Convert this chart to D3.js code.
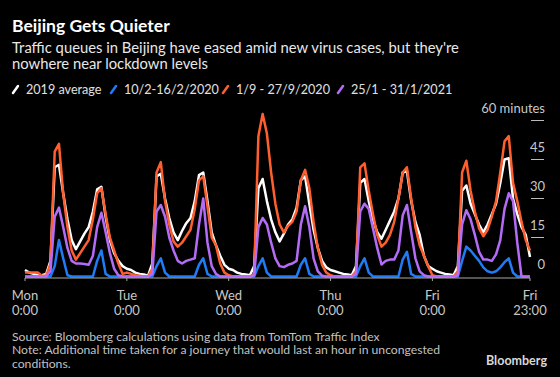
<!DOCTYPE html>
<html>
<head>
<meta charset="utf-8">
<script src="https://cdn.jsdelivr.net/npm/d3@7"></script>
<style>
    body { margin: 0; background: #000; }
    svg { display: block; background: #000; font-family: Lato, "Open Sans", sans-serif; }
</style>
</head>
<body>
<div id="chart"></div>
<script>

// hourly extra minutes, Mon 0:00 -> Fri 23:00 (one row per day)
let avg2019 = [
    2.5,1.5,1,0.5,0.5,1,6,42,43,32,22,14,10.5,13.5,16.5,19,25,33.5,34.5,23,14,9,6,4,
    3,2.5,1.5,1,0.8,0.3,5,38.5,39.5,30,22.5,17,14,17.5,20.5,22.5,29,39,40,29,17,12,8,4.5,
    3,2.5,1.5,1,0.8,0.5,4,34,37.5,29,22,17,13.5,16.5,20,22,26.5,37,38.5,28,18,11,6,3.5,
    2.5,2,1.5,1,0.8,0.5,4,36,37.5,29,22,17,14.5,18,21.5,25,30,40,40.5,29,21,16,8,4,
    3,2,1.5,1,0.8,0.5,4,33,35,28,24,20,17,20,24,28,36,45,45.5,30,24,19,16,7.5
];
let feb2020 = [
    0,0,0,0,0,0,0,4,14,7,0.5,0,0,0,0,0,0,6,10,1,0,0,0,0,
    0,0,0,0,0,0,0,4,7,1.5,0,0,0,0,0,0,0,4.5,7,1,0,0,0,0,
    0,0,0,0,0,0,0,4,7,1.5,0,0,0,0,0,0,0,4.5,7,1,0,0,0,0,
    0,0,0,0,0,0,0,4,7,1.5,0,0,0,0,0,0,0,6.5,9.5,1,0,0,0,0,
    0,0,0,0,0,0,0,6,11.5,10,8,6,3.5,2,1.5,2,3.5,5.5,7,1.5,0,0,0,0
];
let sep2020 = [
    1.5,1.5,1.5,1.5,0.3,0.3,5,48,51,32,19,10,6.5,9,11.5,14,22,32,34,24,15,10,5,1,
    1.5,1,0.5,0.3,0,0,3,40,44,29,20,13.5,11.5,13,15.5,18,26,37,38.5,27,15,12,5,1.5,
    0.5,0,0,0,0,0,1,54,62.5,55,40,28,20,17,19.5,21,25,37,41,34,21,11,4.5,1.5,
    0.5,0,0,0,0,0,2,42,43.5,33,24,16,11.5,13,16,21,30,40,42,30,19,12,8,4,
    0.5,0,0,0,0,0,2,40,44.5,33,25,18.5,15.5,18,23,29,40,52,54,36,29,21,14,10
];
let jan2021 = [
    0,0,0,0,0,0,2,23,26.5,19,11,6,5,5,4.8,4.5,8,19,24.5,17,9,3,0.5,0,
    0,0,0,0,0,0,1,25,27.5,23,15,10,6,5,6,6.5,7,20,30,13,4,1,0,0,
    0,0,0,0,0,0,0.5,19,22.5,20,13,7,4,3.6,4.5,5,6,20,27,19,7,2,0.3,0,
    0,0,0,0,0,0,1,25,28,26,18.5,11,4.6,6,6.5,6.5,10,23.5,27.5,17,7,2,0.5,0,
    0,0,0,0,0,0,0.5,20,25.5,22,16,9.5,6.5,6.5,6,8.5,14,26,32,29,13,0,0,0
];

let seriesNames = ["2019 average", "10/2-16/2/2020", "1/9 - 27/9/2020", "25/1 - 31/1/2021"];
let seriesColors = ["#ffffff", "#1f7cf6", "#ff5f2e", "#b46cf7"];

let tickHours = [0, 24, 48, 72, 96, 119];
let dayLabels = ["Mon", "Tue", "Wed", "Thu", "Fri", "Fri"];
let timeLabels = ["0:00", "0:00", "0:00", "0:00", "0:00", "23:00"];
let yTicks = [0, 15, 30, 45, 60];

let width = 560, height = 377;

let svg = d3.select("#chart").append("svg")
    .attr("width", width)
    .attr("height", height);

// titles
svg.append("text")
    .attr("x", 12).attr("y", 32)
    .attr("fill", "#fff")
    .attr("font-size", 17.5)
    .attr("font-weight", "bold")
    .text("Beijing Gets Quieter");

let sub = ["Traffic queues in Beijing have eased amid new virus cases, but they're",
           "nowhere near lockdown levels"];
svg.selectAll(".sub").data(sub).enter().append("text")
    .attr("class", "sub")
    .attr("x", 12)
    .attr("y", (d, i) => 52.5 + i * 16.5)
    .attr("fill", "#e8e8e8")
    .attr("font-size", 14.8)
    .text(d => d);

// legend
let legendX = [12, 110, 222, 337];
let legend = svg.selectAll(".legend").data(seriesNames).enter().append("g")
    .attr("class", "legend")
    .attr("transform", (d, i) => "translate(" + legendX[i] + ",94)");
legend.append("line")
    .attr("x1", 1).attr("y1", -1)
    .attr("x2", 6).attr("y2", -8)
    .attr("stroke", (d, i) => seriesColors[i])
    .attr("stroke-width", 2.5)
    .attr("stroke-linecap", "round");
legend.append("text")
    .attr("x", 14).attr("y", 0)
    .attr("fill", "#e0e0e0")
    .attr("font-size", 12.6)
    .text(d => d);

// scales
let x = d3.scaleLinear().domain([0, 119]).range([25, 530]);
let y = d3.scaleLinear().domain([0, 60]).range([276.5, 120.5]);

// y axis on the right: short ticks with labels above
let yAxis = svg.append("g").attr("class", "y-axis");
yAxis.selectAll("line").data(yTicks.filter(d => d > 0)).enter().append("line")
    .attr("x1", 531).attr("x2", 544)
    .attr("y1", d => y(d)).attr("y2", d => y(d))
    .attr("stroke", "#bbb")
    .attr("stroke-width", 1);
yAxis.selectAll("text").data(yTicks).enter().append("text")
    .attr("x", 545)
    .attr("y", d => y(d) - 7.5)
    .attr("text-anchor", "end")
    .attr("fill", "#c8c8c8")
    .attr("font-size", 13)
    .text(d => d == 60 ? "60 minutes" : d);

// lines
let line = d3.line()
    .x((d, i) => x(i))
    .y(d => y(d));

svg.selectAll(".series").data([avg2019, feb2020, sep2020, jan2021]).enter().append("path")
    .attr("class", "series")
    .attr("d", d => line(d))
    .attr("fill", "none")
    .attr("stroke", (d, i) => seriesColors[i])
    .attr("stroke-width", 2.5)
    .attr("stroke-linejoin", "round");

// x axis
let xAxis = svg.append("g").attr("class", "x-axis");
xAxis.append("line")
    .attr("x1", x(0)).attr("x2", x(119))
    .attr("y1", 278).attr("y2", 278)
    .attr("stroke", "#a8a8a0")
    .attr("stroke-width", 1);
xAxis.selectAll(".tick").data(tickHours).enter().append("line")
    .attr("class", "tick")
    .attr("x1", d => x(d)).attr("x2", d => x(d))
    .attr("y1", 278).attr("y2", 281)
    .attr("stroke", "#a8a8a0");
xAxis.selectAll(".day").data(tickHours).enter().append("text")
    .attr("class", "day")
    .attr("x", d => x(d))
    .attr("y", 299.5)
    .attr("text-anchor", "middle")
    .attr("fill", "#c8c8c8")
    .attr("font-size", 13)
    .text((d, i) => dayLabels[i]);
xAxis.selectAll(".time").data(tickHours).enter().append("text")
    .attr("class", "time")
    .attr("x", d => x(d))
    .attr("y", 315)
    .attr("text-anchor", "middle")
    .attr("fill", "#c8c8c8")
    .attr("font-size", 13)
    .text((d, i) => timeLabels[i]);

// footer
let notes = ["Source: Bloomberg calculations using data from TomTom Traffic Index",
             "Note: Additional time taken for a journey that would last an hour in uncongested",
             "conditions."];
svg.selectAll(".note").data(notes).enter().append("text")
    .attr("class", "note")
    .attr("x", 12)
    .attr("y", (d, i) => 340.5 + i * 13.5)
    .attr("fill", "#c0c0c0")
    .attr("font-size", 12.2)
    .text(d => d);

svg.append("text")
    .attr("x", 547).attr("y", 365)
    .attr("text-anchor", "end")
    .attr("fill", "#d8d8d8")
    .attr("font-size", 12.5)
    .attr("font-weight", "bold")
    .text("Bloomberg");

</script>
</body>
</html>
